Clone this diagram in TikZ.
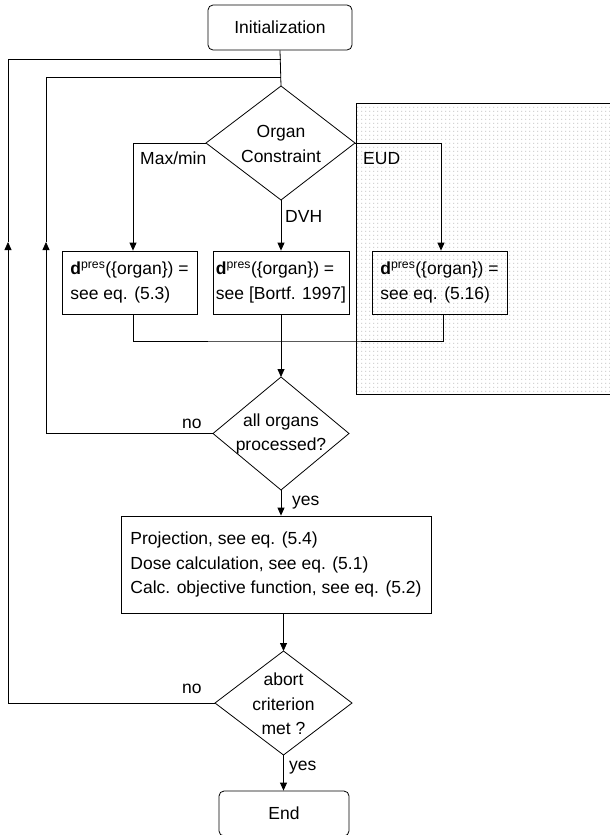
\documentclass[tikz,border=0pt]{standalone}
\usepackage{fontspec}
\setmainfont{Liberation Sans}
\usetikzlibrary{arrows.meta,patterns.meta}
\tikzdeclarepattern{
  name=pdots,
  type=uncolored,
  bottom left={(0pt,0pt)},
  top right={(4.3pt,4.3pt)},
  tile size={(4.3pt,4.3pt)},
  code={\fill (1.7pt,1.7pt) rectangle (2.6pt,2.6pt);}
}
\begin{document}
\begin{tikzpicture}[x=1pt,y=-1pt,
  every node/.style={font=\fontsize{17.5pt}{24.5pt}\selectfont, inner sep=0pt},
  ln/.style={line width=0.8pt},
  arr/.style={ln,-{Triangle[width=7pt,length=8pt]}},
  term/.style={draw,ln,rounded corners=5pt,minimum width=#1,minimum height=45pt},
  procbox/.style={draw,ln,minimum width=#1,minimum height=63pt,align=left},
  dtext/.style={align=center},
  lbl/.style={anchor=base west}
]
\useasboundingbox (0,0) rectangle (610,835);
% shaded area
\fill[pattern=pdots,pattern color=black!40] (356,103) rectangle (610,394);
\draw[ln] (610,103) -- (356,103) -- (356,394) -- (610,394);

\node[term=144pt] (init) at (280,27.5) {Initialization};

% decision 1
\coordinate (ocn) at (281,86);
\coordinate (ocs) at (281,200);
\coordinate (ocw) at (206,143);
\coordinate (oce) at (355,143);
\draw[ln] (ocn) -- (oce) -- (ocs) -- (ocw) -- cycle;
\node[dtext] (oc) at (281,144) {Organ\\Constraint};

\node[procbox=135pt] (b1) at (129.5,282.5) {\textbf{d}\textsuperscript{pres}(\{organ\}) =\\see eq. (5.3)};
\node[procbox=136pt] (b2) at (281,282.5) {\textbf{d}\textsuperscript{pres}(\{organ\}) =\\see [Bortf. 1997]};
\node[procbox=135pt] (b3) at (439.5,282.5) {\textbf{d}\textsuperscript{pres}(\{organ\}) =\\see eq. (5.16)};

% decision 2
\coordinate (d2n) at (281,377);
\coordinate (d2s) at (281,490);
\coordinate (d2w) at (213,433.5);
\coordinate (d2e) at (349,433.5);
\draw[ln] (d2n) -- (d2e) -- (d2s) -- (d2w) -- cycle;
\node[dtext] (d2) at (281,434) {all organs\\processed?};

\node[draw,ln,minimum width=310pt,minimum height=97pt,align=left] (big) at (276,564.5) {Projection, see eq. (5.4)\\Dose calculation, see eq. (5.1)\\Calc. objective function, see eq. (5.2)};

% decision 3
\coordinate (d3n) at (283.5,651);
\coordinate (d3s) at (283.5,755);
\coordinate (d3w) at (215,703);
\coordinate (d3e) at (352,703);
\draw[ln] (d3n) -- (d3e) -- (d3s) -- (d3w) -- cycle;
\node[dtext] (d3) at (283.5,704) {abort\\criterion\\met ?};

\node[term=130pt] (end) at (284,813.5) {End};

% labels
\node[lbl] (lmax) at (140,164) {Max/min};
\node[lbl] (leud) at (363,164) {EUD};
\node[lbl] (ldvh) at (285,222) {DVH};
\node[lbl] (lno1) at (182,428) {no};
\node[lbl] (lyes1) at (292,505) {yes};
\node[lbl] (lno2) at (182,693) {no};
\node[lbl] (lyes2) at (289,770) {yes};

% coordinates
\coordinate (j1) at (281,59);
\coordinate (j2) at (281,77);
\coordinate (oa) at (8,242);
\coordinate (ia) at (46,242);
\coordinate (mrg) at (281,341);

% connectors
\draw[ln] (init.south) -- (ocn);
\draw[arr] (ocw) -| ([xshift=3.5pt]b1.north);
\draw[arr] (ocs) -- (b2.north);
\draw[arr] (oce) -| ([xshift=1.5pt]b3.north);
\draw[ln] ([xshift=3.5pt]b1.south) |- (mrg) -| ([xshift=3.5pt]b3.south);
\draw[arr] (b2.south) -- (d2n);
\draw[arr] (d2s) -- (big.north -| d2s);
\draw[arr] (big.south -| d3n) -- (d3n);
\draw[arr] (d3s) -- (end.north -| d3s);
% loops
\draw[arr] (d2w) -| (ia);
\draw[ln] (ia) |- (j2);
\draw[arr] (d3w) -| (oa);
\draw[ln] (oa) |- (j1);
\end{tikzpicture}
\end{document}
